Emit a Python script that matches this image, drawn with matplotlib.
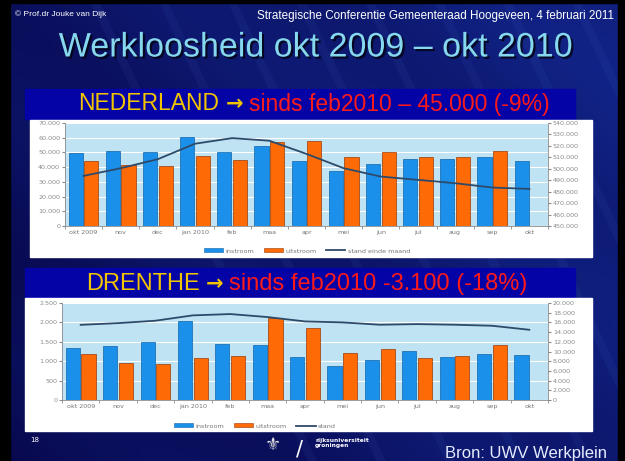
import numpy as np
import matplotlib
matplotlib.use("Agg")
import matplotlib.pyplot as plt
import matplotlib.patheffects as pe
from matplotlib.patches import Rectangle, Patch
from matplotlib.lines import Line2D
from matplotlib.ticker import FuncFormatter, MultipleLocator

# ---------------- data ----------------
months = ["okt 2009", "nov", "dec", "jan 2010", "feb", "maa", "apr",
          "mei", "jun", "jul", "aug", "sep", "okt"]

nl_instroom = [49500, 50700, 50000, 60400, 50200, 54500, 44500,
               37700, 42300, 45500, 45500, 46600, 44500]
nl_uitstroom = [43900, 41600, 41100, 47700, 44800, 57000, 58000,
                47000, 50200, 47000, 47000, 50700]
nl_stand = [493800, 500500, 508400, 521900, 526800, 524500, 513000,
            500500, 493200, 490300, 487400, 483600, 482400]

dr_instroom = [1336, 1379, 1500, 2034, 1448, 1414, 1112,
               888, 1034, 1267, 1112, 1181, 1164]
dr_uitstroom = [1181, 948, 922, 1078, 1138, 2103, 1862,
                1224, 1310, 1086, 1138, 1422]
dr_stand = [15500, 15850, 16350, 17450, 17720, 17100, 16200,
            16000, 15520, 15650, 15520, 15310, 14480]

W, H = 625, 461
fig = plt.figure(figsize=(W / 100, H / 100), dpi=100)
renderer = fig.canvas.get_renderer()

SANS = ["Liberation Sans", "DejaVu Sans"]


def rect(x0, y0, x1, y1):
    return [x0 / W, 1 - y1 / H, (x1 - x0) / W, (y1 - y0) / H]


def fx(x):
    return x / W


def fy(y):
    return 1 - y / H


# ---------------- background ----------------
bg = fig.add_axes([0, 0, 1, 1])
bg.set_axis_off()
xx, yy = np.meshgrid(np.linspace(0, 1, 200), np.linspace(0, 1, 150))
t = np.clip(0.55 * xx + 0.25 * (1 - yy) + 0.15 * np.sin(6 * (xx - yy)) ** 2, 0, 1)
c0 = np.array([0.03, 0.03, 0.30])
c1 = np.array([0.07, 0.15, 0.55])
img = c0[None, None, :] * (1 - t[..., None]) + c1[None, None, :] * t[..., None]
bg.imshow(img, extent=[0, 1, 0, 1], aspect="auto", zorder=0)
for k in range(8):
    x0 = 0.15 + k * 0.11
    bg.plot([x0, x0 + 0.35], [1.0, 0.0], color=(0.35, 0.45, 0.85), alpha=0.08, lw=6)
bg.set_xlim(0, 1)
bg.set_ylim(0, 1)
bg.add_patch(Rectangle((0, 0), fx(10), 1, color="black", zorder=2))
bg.add_patch(Rectangle((fx(618), 0), 1 - fx(618), 1, color="black", zorder=2))
bg.add_patch(Rectangle((0, fy(3)), 1, 1 - fy(3), color="black", zorder=2))

# title bands
bg.add_patch(Rectangle((fx(25), fy(119)), fx(575) - fx(25), fy(89) - fy(119),
                       color="#0303a6", zorder=3))
bg.add_patch(Rectangle((fx(25), fy(298)), fx(575) - fx(25), fy(268) - fy(298),
                       color="#0303a6", zorder=3))
# white chart panels
bg.add_patch(Rectangle((fx(30), fy(257)), fx(592) - fx(30), fy(120) - fy(257),
                       color="white", zorder=3))
bg.add_patch(Rectangle((fx(25), fy(431)), fx(592) - fx(25), fy(298) - fy(431),
                       color="white", zorder=3))

# ---------------- texts ----------------
fig.text(fx(15), fy(14), "© Prof.dr Jouke van Dijk", color="white",
         fontsize=6.0, family=SANS, va="center", ha="left")
fig.text(fx(614), fy(16), "Strategische Conferentie Gemeenteraad Hoogeveen, 4 februari 2011",
         color="white", fontsize=8.4, family=SANS, va="center", ha="right")
fig.text(fx(316), fy(48), "Werkloosheid okt 2009 – okt 2010",
         color="#86d8ee", fontsize=24.5, family=SANS, va="center", ha="center",
         path_effects=[pe.withSimplePatchShadow(offset=(1.5, -1.5),
                                                shadow_rgbFace="#05051a", alpha=0.9)])


def chain(pieces, center_x, y, gap=6):
    """Place text pieces one after another, centred as a group at center_x (pixels)."""
    objs = []
    widths = []
    for txt, col, size, fam, wt in pieces:
        o = fig.text(0, fy(y), txt, color=col, fontsize=size, family=fam,
                     weight=wt, va="center", ha="left")
        widths.append(o.get_window_extent(renderer).width)
        objs.append(o)
    total = sum(widths) + gap * (len(pieces) - 1)
    x = center_x - total / 2
    for o, w in zip(objs, widths):
        o.set_x(fx(x))
        x += w + gap


YEL = "#f2c400"
RED = "#ff1a1a"
chain([("NEDERLAND", YEL, 16.5, SANS, "normal"),
       ("→", YEL, 15, ["DejaVu Sans"], "bold"),
       ("sinds feb2010 – 45.000 (-9%)", RED, 16.5, SANS, "normal")], 314, 104)
chain([("DRENTHE", YEL, 17, SANS, "normal"),
       ("→", YEL, 15, ["DejaVu Sans"], "bold"),
       ("sinds feb2010 -3.100 (-18%)", RED, 17, SANS, "normal")], 307, 284)

fig.text(fx(30), fy(440), "18", color="white", fontsize=5, va="center", ha="left")
fig.text(fx(607), fy(453), "Bron: UWV Werkplein", color="#e6ecff", fontsize=12,
         family=SANS, va="center", ha="right")
fig.text(fx(273), fy(445), "⚜", color="#dddddd", fontsize=13,
         family=["DejaVu Sans"], va="center", ha="center")
fig.text(fx(300), fy(449), "/", color="white", fontsize=15, va="center", ha="center")
fig.text(fx(315), fy(443), "rijksuniversiteit\ngroningen", color="white",
         fontsize=4.2, weight="bold", va="center", ha="left", linespacing=1.1)

# ---------------- charts ----------------
BLUE = "#1a90ea"
BLUE_E = "#1164a8"
ORANGE = "#fd6a06"
ORANGE_E = "#9a3a05"
LINEC = "#2d4a6b"
PLOTBG = "#bfe3f2"
TICKC = "#8a8a8a"


def dotfmt(v, pos):
    return f"{int(round(v)):,}".replace(",", ".")


def make_chart(box, inst, uit, stand, lmax, lstep, rmin, rmax, rstep, leg_xy, leg_labels):
    ax = fig.add_axes(rect(*box))
    x = np.arange(len(months))
    ax.set_facecolor(PLOTBG)
    ax.bar(x - 0.21, inst, width=0.38, color=BLUE, edgecolor=BLUE_E, lw=0.5, zorder=3)
    ax.bar(x[:len(uit)] + 0.21, uit, width=0.38, color=ORANGE, edgecolor=ORANGE_E,
           lw=0.5, zorder=3)
    ax.set_xlim(-0.5, len(months) - 0.5)
    ax.set_ylim(0, lmax)
    ax.yaxis.set_major_locator(MultipleLocator(lstep))
    ax.yaxis.set_major_formatter(FuncFormatter(dotfmt))
    ax.grid(axis="y", color="white", lw=0.8, zorder=1)
    ax.set_xticks(x)
    ax.set_xticklabels(months)
    ax.set_xticks(np.arange(len(months) + 1) - 0.5, minor=True)
    ax.tick_params(axis="x", which="major", length=0, labelsize=4.6,
                   labelcolor="#777777", pad=3)
    ax.tick_params(axis="x", which="minor", length=2, color=TICKC)
    ax.tick_params(axis="y", labelsize=4.6, labelcolor="#8a8a8a", length=2,
                   color=TICKC, pad=1.5)
    for s in ["top", "right"]:
        ax.spines[s].set_visible(False)
    ax.spines["left"].set_color(TICKC)
    ax.spines["bottom"].set_color(TICKC)
    ax.spines["left"].set_linewidth(0.6)
    ax.spines["bottom"].set_linewidth(0.6)

    ax2 = ax.twinx()
    ax2.plot(x, stand, color=LINEC, lw=1.3, zorder=5)
    ax2.set_ylim(rmin, rmax)
    ax2.yaxis.set_major_locator(MultipleLocator(rstep))
    ax2.yaxis.set_major_formatter(FuncFormatter(dotfmt))
    ax2.tick_params(axis="y", labelsize=4.6, labelcolor="#8a8a8a", length=2,
                    color=TICKC, pad=1.5)
    for s in ["top", "left", "bottom"]:
        ax2.spines[s].set_visible(False)
    ax2.spines["right"].set_color(TICKC)
    ax2.spines["right"].set_linewidth(0.6)

    handles = [Patch(facecolor=BLUE, edgecolor=BLUE_E, lw=0.4),
               Patch(facecolor=ORANGE, edgecolor=ORANGE_E, lw=0.4),
               Line2D([], [], color=LINEC, lw=1.3)]
    fig.legend(handles, leg_labels, loc="center",
               bbox_to_anchor=(fx(leg_xy[0]), fy(leg_xy[1])), ncol=3, frameon=False,
               fontsize=4.6, labelcolor="#777777", handlelength=3.0, handleheight=0.6,
               handletextpad=0.4, columnspacing=1.5)
    return ax


make_chart((65, 123, 548, 226), nl_instroom, nl_uitstroom, nl_stand,
           70000, 10000, 450000, 540000, 10000, (307, 251),
           ["instroom", "uitstroom", "stand einde maand"])
make_chart((62, 303, 548, 400), dr_instroom, dr_uitstroom, dr_stand,
           2500, 500, 0, 20000, 2000, (255, 426),
           ["instroom", "uitstroom", "stand"])

fig.savefig("out.png", dpi=100)
